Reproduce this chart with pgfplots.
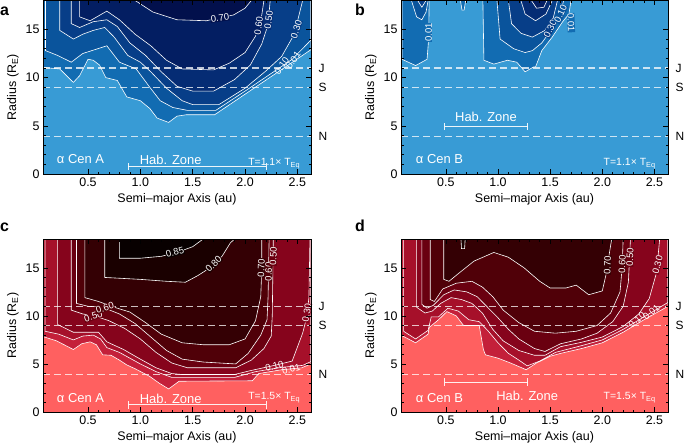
\documentclass[border=0pt]{standalone}
\usepackage{fontspec}
\setmainfont{Liberation Sans}
\usepackage{pgfplots}
\usepackage{pgfplotstable}
\pgfplotsset{compat=1.18}

\definecolor{b0}{RGB}{56,155,213}
\definecolor{b1}{RGB}{18,108,178}
\definecolor{b2}{RGB}{10,84,156}
\definecolor{b3}{RGB}{7,62,136}
\definecolor{b4}{RGB}{5,44,116}
\definecolor{b5}{RGB}{3,30,98}
\definecolor{b6}{RGB}{2,16,76}
\definecolor{r0}{RGB}{255,96,96}
\definecolor{r1}{RGB}{196,32,58}
\definecolor{r2}{RGB}{166,16,42}
\definecolor{r3}{RGB}{134,4,28}
\definecolor{r4}{RGB}{106,0,16}
\definecolor{r5}{RGB}{80,0,8}
\definecolor{r6}{RGB}{52,0,4}
\definecolor{r7}{RGB}{26,0,0}
\definecolor{r8}{RGB}{8,0,0}

% ---------------- panel a (alpha Cen A, T=1.1 T_Eq) ----------------
\pgfplotstableread{
x y
0.07 11.05
0.23 10.9
0.36 9.5
0.42 10.2
0.50 11.9
0.55 11.8
0.61 11.3
0.67 10.0
0.78 9.7
0.87 8.0
1.00 7.6
1.09 6.8
1.16 5.8
1.27 5.35
1.35 6.0
1.44 6.15
1.71 6.15
2.63 12.9
2.63 18
0.07 18
}\aA
\pgfplotstableread{
x y
0.094 18
0.094 12.8
0.21 12.3
0.34 11.6
0.45 12.5
0.68 13.3
0.80 11.6
0.96 10.9
1.09 9.0
1.19 7.6
1.31 6.9
1.45 6.6
1.72 6.6
2.00 8.6
2.30 10.8
2.45 11.9
2.63 13.9
2.63 18
}\aB
\pgfplotstableread{
x y
0.23 18
0.23 14.9
0.36 14.0
0.45 14.5
0.55 14.9
0.66 15.2
0.75 14.2
0.88 12.3
1.00 11.6
1.10 10.6
1.25 8.9
1.40 7.6
1.50 7.2
1.75 7.2
2.00 8.9
2.20 10.7
2.35 12.2
2.47 14.5
2.55 18
}\aC
\pgfplotstableread{
x y
0.34 18
0.34 15.6
0.42 15.2
0.55 15.8
0.68 16.0
0.78 15.3
0.90 13.6
1.05 12.3
1.20 10.6
1.35 9.1
1.50 8.6
1.70 8.6
1.90 9.8
2.05 11.3
2.16 13.5
2.22 15.5
2.24 18
}\aD
\pgfplotstableread{
x y
0.42 18
0.42 16.3
0.52 15.9
0.68 16.9
0.80 16.0
0.95 14.5
1.10 13.3
1.25 11.8
1.40 10.9
1.70 10.8
1.85 11.5
2.00 12.6
2.10 14.3
2.16 16.5
2.18 18
}\aE
\pgfplotstableread{
x y
0.95 18
1.12 16.8
1.35 16.0
1.63 15.9
1.89 16.5
2.00 17.2
2.06 18
}\aF

% ---------------- panel b (alpha Cen B, T=1.1 T_Eq) ----------------
\pgfplotstableread{
x y
0.08 18
0.08 11.9
0.21 11.25
0.32 11.9
0.335 14.0
0.34 18
}\bA
\pgfplotstableread{
x y
0.17 18
0.22 16.3
0.27 16.0
0.31 16.8
0.33 18
}\bB
\pgfplotstableread{
x y
0.23 18
0.27 17.3
0.31 18
}\bC
\pgfplotstableread{
x y
0.64 18
0.655 17.0
0.675 17.0
0.69 18
}\bD
\pgfplotstableread{
x y
0.855 18
0.865 11.8
0.96 11.4
1.09 11.8
1.18 11.6
1.26 10.6
1.34 11.1
1.36 11.1
1.42 12.8
1.52 14.2
1.62 15.8
1.68 16.6
1.70 18
}\bE
\pgfplotstableread{
x y
0.99 18
1.02 14.0
1.15 13.0
1.26 12.6
1.33 12.8
1.42 13.6
1.50 14.8
1.58 16.0
1.63 18
}\bF
\pgfplotstableread{
x y
1.10 18
1.13 15.6
1.22 14.6
1.33 14.2
1.45 14.9
1.53 16.2
1.57 18
}\bG
\pgfplotstableread{
x y
1.22 18
1.26 16.6
1.36 15.9
1.46 16.6
1.52 18
}\bH
\pgfplotstableread{
x y
1.32 18
1.37 17.2
1.44 17.3
1.47 18
}\bI

% ---------------- panel c (alpha Cen A, T=1.5 T_Eq) ----------------
\pgfplotstableread{
x y
0.07 7.85
0.20 7.4
0.36 6.5
0.44 7.1
0.52 7.3
0.58 7.0
0.64 5.95
0.72 5.9
0.80 5.4
0.87 4.9
0.95 4.5
1.09 3.7
1.18 3.0
1.27 2.4
1.37 3.2
2.07 3.25
2.13 4.0
2.35 4.4
2.54 4.6
2.63 5.0
2.63 18
0.07 18
}\cA
\pgfplotstableread{
x y
0.09 18
0.09 8.4
0.22 8.1
0.36 7.5
0.45 7.9
0.55 8.0
0.62 7.6
0.68 6.7
0.80 6.2
0.90 5.6
1.00 5.0
1.15 4.2
1.30 3.6
1.90 3.6
2.10 4.2
2.35 4.65
2.55 4.85
2.63 5.25
2.63 18
}\cB
\pgfplotstableread{
x y
0.21 18
0.21 9.1
0.36 8.3
0.60 8.3
0.68 7.3
0.84 6.5
1.00 5.5
1.15 4.6
1.30 4.0
1.40 3.9
1.90 3.9
2.05 4.3
2.30 4.9
2.45 5.3
2.55 8.2
2.59 9.9
2.61 11.9
2.62 18
}\cC
\pgfplotstableread{
x y
0.34 18
0.34 10.6
0.45 10.2
0.56 10.0
0.70 9.5
0.85 8.7
1.00 7.6
1.15 6.2
1.30 5.1
1.45 4.6
1.91 4.6
2.06 5.4
2.18 6.6
2.25 7.9
2.26 10
2.27 18
}\cD
\pgfplotstableread{
x y
0.39 18
0.39 11.3
0.50 11.0
0.64 10.9
0.80 10.2
0.95 9.2
1.10 7.8
1.25 6.4
1.40 5.5
1.60 5.2
1.91 5.0
2.03 6.1
2.15 8.0
2.21 9.6
2.22 12
2.23 18
}\cE
\pgfplotstableread{
x y
0.47 18
0.47 11.9
0.60 11.5
0.75 10.9
0.90 10.4
1.05 9.3
1.20 8.1
1.40 7.2
1.60 7.0
1.85 7.0
2.00 7.6
2.10 9.5
2.15 12
2.16 15
2.16 18
}\cF
\pgfplotstableread{
x y
0.66 18
0.66 14.0
1.00 13.8
1.25 13.6
1.43 13.5
1.55 14.2
1.65 14.9
1.78 16.2
1.86 17.6
1.90 18
}\cG
\pgfplotstableread{
x y
0.80 18
0.80 16.0
1.00 16.0
1.20 16.2
1.35 16.6
1.50 17.2
1.60 18
}\cH

% ---------------- panel d (alpha Cen B, T=1.5 T_Eq) ----------------
\pgfplotstableread{
x y
0.07 8.0
0.21 7.2
0.33 8.1
0.34 8.8
0.43 9.6
0.51 10.45
0.60 10.0
0.67 9.0
0.82 9.0
0.86 6.5
0.88 5.95
1.00 5.6
1.12 5.1
1.27 4.4
1.37 5.1
1.50 5.8
1.60 6.1
1.80 6.6
2.00 7.2
2.20 8.3
2.40 9.6
2.63 11.0
2.63 18
0.07 18
}\dA
\pgfplotstableread{
x y
0.095 18
0.095 8.4
0.21 7.6
0.33 8.5
0.36 9.9
0.43 9.9
0.52 10.8
0.62 10.5
0.72 9.6
0.82 9.4
0.90 8.5
1.00 7.2
1.10 6.1
1.20 5.4
1.28 4.8
1.40 5.3
1.55 6.2
1.80 6.9
2.00 7.5
2.20 8.6
2.40 9.9
2.63 11.4
2.63 18
}\dB
\pgfplotstableread{
x y
0.22 18
0.22 10.9
0.30 10.3
0.37 10.5
0.45 11.3
0.55 11.9
0.65 11.7
0.75 11.3
0.85 10.3
0.95 8.6
1.05 7.4
1.20 6.4
1.35 5.9
1.45 5.9
1.60 6.8
1.80 7.25
2.00 7.8
2.20 8.9
2.35 10.2
2.45 11.8
2.52 14.5
2.55 18
}\dC
\pgfplotstableread{
x y
0.27 18
0.27 11.2
0.32 10.8
0.38 11.1
0.48 12.2
0.58 12.7
0.70 12.5
0.80 12.0
0.90 10.9
1.00 9.8
1.10 8.6
1.20 7.6
1.35 6.6
1.45 6.3
1.60 7.1
1.80 7.6
1.95 8.2
2.10 9.4
2.20 11.0
2.25 13.5
2.27 18
}\dD
\pgfplotstableread{
x y
0.35 18
0.35 11.7
0.39 11.5
0.47 12.8
0.60 13.4
0.75 13.6
0.85 13.0
0.95 12.0
1.05 10.6
1.20 9.3
1.35 8.4
1.55 8.2
1.75 8.4
1.95 9.0
2.08 10.3
2.17 12.5
2.19 15
2.20 18
}\dE
\pgfplotstableread{
x y
0.48 18
0.48 13.8
0.53 13.6
0.62 14.4
0.77 15.7
0.96 16.6
1.10 16.1
1.25 15.0
1.40 13.6
1.50 12.9
1.65 12.9
1.75 13.2
1.87 12.2
2.00 12.6
2.04 14.5
2.06 16.0
2.09 18
}\dF
\pgfplotstableread{
x y
0.645 18
0.65 17.0
0.68 17.0
0.685 18
}\dG

\pgfplotsset{
  /pgf/number format/assume math mode=true,
  panel/.style={
    scale only axis,
    xmin=0.07, xmax=2.63, ymin=0, ymax=18,
    xtick={0.5,1.0,1.5,2.0,2.5}, ytick={0,5,10,15},
    minor x tick num=4, minor y tick num=4,
    tick align=inside, major tick length=5bp, minor tick length=2.5bp,
    tick style={black, line width=0.5pt},
    axis line style={black, line width=0.8pt},
    axis on top, clip mode=individual,
    x tick label style={/pgf/number format/.cd, fixed, fixed zerofill, precision=1, /tikz/.cd},
    tick label style={font=\fontsize{12.5}{14}\selectfont},
    label style={font=\fontsize{12.5}{14}\selectfont},
    xlabel={Semi--major Axis (au)},
    ylabel={Radius (R\textsubscript{E})},
  },
  cl/.style={white, line width=0.6pt},
  dsh/.style={white, opacity=0.75, line width=1.1pt, dash pattern=on 7bp off 4bp},
  hz/.style={white, opacity=0.9, line width=0.9pt, |-|},
}
\tikzset{
  clab/.style={text=white, font=\fontsize{9.5}{10}\selectfont, inner sep=0.4pt},
  rl/.style={font=\fontsize{12}{13}\selectfont, anchor=west},
  big/.style={text=white, font=\fontsize{13}{14}\selectfont},
  tl/.style={text=white, font=\fontsize{10.5}{12}\selectfont, anchor=east},
}

\begin{document}
\begin{tikzpicture}
\useasboundingbox (0,0) rectangle (685bp,-446bp);

% ======================= a =======================
\begin{axis}[panel, at={(43bp,-0.5bp)}, anchor=north west, width=268bp, height=173.5bp,
  axis background/.style={fill=b0}]
\addplot[fill=b1, draw=none] table {\aA};
\addplot[fill=b2, draw=none] table {\aB};
\addplot[fill=b3, draw=none] table {\aC};
\addplot[fill=b4, draw=none] table {\aD};
\addplot[fill=b5, draw=none] table {\aE};
\addplot[fill=b6, draw=none] table {\aF};
\addplot[cl] table {\aA};
\addplot[cl] table {\aB};
\addplot[cl] table {\aC};
\addplot[cl] table {\aD};
\addplot[cl] table {\aE};
\addplot[cl] table {\aF};
\addplot[dsh] coordinates {(0.07,11) (2.63,11)};
\addplot[dsh] coordinates {(0.07,9) (2.63,9)};
\addplot[dsh] coordinates {(0.07,3.88) (2.63,3.88)};
\addplot[hz] coordinates {(0.88,0.76) (2.21,0.76)};
\node[clab, fill=b6, rotate=8] at (axis cs:1.76,16.2) {0.70};
\node[clab, fill=b5, rotate=82] at (axis cs:2.13,15.4) {0.60};
\node[clab, fill=b4, rotate=82] at (axis cs:2.225,16.0) {0.50};
\node[clab, fill=b3, rotate=72] at (axis cs:2.49,15.0) {0.30};
\node[clab, rotate=55] at (axis cs:2.35,11.2) {0.10};
\node[clab, rotate=55] at (axis cs:2.46,11.8) {0.01};
\node[big, anchor=west] at (axis cs:0.17,1.55) {α Cen A};
\node[big] at (axis cs:1.29,1.5) {Hab. Zone};
\node[tl] at (axis cs:2.56,1.1) {T=1.1× T\textsubscript{Eq}};
\node[rl] at (axis cs:2.67,11) {J};
\node[rl] at (axis cs:2.67,9) {S};
\node[rl] at (axis cs:2.67,3.88) {N};
\end{axis}

% ======================= b =======================
\begin{axis}[panel, at={(401bp,-0.5bp)}, anchor=north west, width=267bp, height=173.5bp,
  axis background/.style={fill=b0}]
\addplot[fill=b1, draw=none] table {\bA};
\addplot[fill=b1, draw=none] table {\bD};
\addplot[fill=b1, draw=none] table {\bE};
\addplot[fill=b2, draw=none] table {\bB};
\addplot[fill=b2, draw=none] table {\bF};
\addplot[fill=b3, draw=none] table {\bC};
\addplot[fill=b3, draw=none] table {\bG};
\addplot[fill=b4, draw=none] table {\bH};
\addplot[fill=b5, draw=none] table {\bI};
\addplot[cl] table {\bA};
\addplot[cl] table {\bB};
\addplot[cl] table {\bC};
\addplot[cl] table {\bD};
\addplot[cl] table {\bE};
\addplot[cl] table {\bF};
\addplot[cl] table {\bG};
\addplot[cl] table {\bH};
\addplot[cl] table {\bI};
\addplot[dsh] coordinates {(0.07,11) (2.63,11)};
\addplot[dsh] coordinates {(0.07,9) (2.63,9)};
\addplot[dsh] coordinates {(0.07,3.88) (2.63,3.88)};
\addplot[hz] coordinates {(0.485,4.93) (1.29,4.93)};
\node[clab, fill=b1, rotate=90] at (axis cs:0.335,14.7) {0.01};
\node[clab, fill=b3, rotate=65] at (axis cs:1.50,15.1) {0.30};
\node[clab, fill=b2, rotate=65] at (axis cs:1.60,16.6) {0.10};
\node[clab, fill=b1, rotate=-88] at (axis cs:1.70,15.7) {0.01};
\node[big, anchor=west] at (axis cs:0.18,1.55) {α Cen B};
\node[big] at (axis cs:0.885,5.9) {Hab. Zone};
\node[tl] at (axis cs:2.545,1.1) {T=1.1× T\textsubscript{Eq}};
\node[rl] at (axis cs:2.67,11) {J};
\node[rl] at (axis cs:2.67,9) {S};
\node[rl] at (axis cs:2.67,3.88) {N};
\end{axis}

% ======================= c =======================
\begin{axis}[panel, at={(43bp,-239bp)}, anchor=north west, width=268bp, height=173bp,
  axis background/.style={fill=r0}]
\addplot[fill=r1, draw=none] table {\cA};
\addplot[fill=r2, draw=none] table {\cB};
\addplot[fill=r3, draw=none] table {\cC};
\addplot[fill=r4, draw=none] table {\cD};
\addplot[fill=r5, draw=none] table {\cE};
\addplot[fill=r6, draw=none] table {\cF};
\addplot[fill=r7, draw=none] table {\cG};
\addplot[fill=r8, draw=none] table {\cH};
\addplot[cl] table {\cA};
\addplot[cl] table {\cB};
\addplot[cl] table {\cC};
\addplot[cl] table {\cD};
\addplot[cl] table {\cE};
\addplot[cl] table {\cF};
\addplot[cl] table {\cG};
\addplot[cl] table {\cH};
\addplot[dsh] coordinates {(0.07,11) (2.63,11)};
\addplot[dsh] coordinates {(0.07,9) (2.63,9)};
\addplot[dsh] coordinates {(0.07,3.88) (2.63,3.88)};
\addplot[hz] coordinates {(0.88,0.74) (2.21,0.74)};
\node[clab, fill=r8, rotate=15] at (axis cs:1.33,16.6) {0.85};
\node[clab, fill=r7, rotate=45] at (axis cs:1.70,15.4) {0.80};
\node[clab, fill=r6, rotate=88] at (axis cs:2.155,15.0) {0.70};
\node[clab, fill=r5, rotate=88] at (axis cs:2.225,14.6) {0.60};
\node[clab, fill=r4, rotate=88] at (axis cs:2.27,16.2) {0.50};
\node[clab, fill=r3, rotate=80] at (axis cs:2.59,10.3) {0.30};
\node[clab, rotate=15] at (axis cs:2.28,4.75) {0.10};
\node[clab, rotate=15] at (axis cs:2.44,4.45) {0.01};
\node[clab, fill=r4, rotate=18] at (axis cs:0.55,9.95) {0.50};
\node[clab, fill=r5, rotate=18] at (axis cs:0.66,10.85) {0.60};
\node[big, anchor=west] at (axis cs:0.17,1.43) {α Cen A};
\node[big] at (axis cs:1.29,1.36) {Hab. Zone};
\node[tl] at (axis cs:2.56,1.5) {T=1.5× T\textsubscript{Eq}};
\node[rl] at (axis cs:2.67,11) {J};
\node[rl] at (axis cs:2.67,9) {S};
\node[rl] at (axis cs:2.67,3.88) {N};
\end{axis}

% ======================= d =======================
\begin{axis}[panel, at={(401bp,-239bp)}, anchor=north west, width=267bp, height=173bp,
  axis background/.style={fill=r0}]
\addplot[fill=r1, draw=none] table {\dA};
\addplot[fill=r2, draw=none] table {\dB};
\addplot[fill=r3, draw=none] table {\dC};
\addplot[fill=r4, draw=none] table {\dD};
\addplot[fill=r5, draw=none] table {\dE};
\addplot[fill=r6, draw=none] table {\dF};
\addplot[fill=r7, draw=none] table {\dG};
\addplot[cl] table {\dA};
\addplot[cl] table {\dB};
\addplot[cl] table {\dC};
\addplot[cl] table {\dD};
\addplot[cl] table {\dE};
\addplot[cl] table {\dF};
\addplot[cl] table {\dG};
\addplot[dsh] coordinates {(0.07,11) (2.63,11)};
\addplot[dsh] coordinates {(0.07,9) (2.63,9)};
\addplot[dsh] coordinates {(0.07,3.88) (2.63,3.88)};
\addplot[hz] coordinates {(0.485,3.1) (1.29,3.1)};
\node[clab, fill=r6, rotate=88] at (axis cs:2.05,15.3) {0.70};
\node[clab, fill=r5, rotate=88] at (axis cs:2.19,15.4) {0.60};
\node[clab, fill=r4, rotate=88] at (axis cs:2.265,16.1) {0.50};
\node[clab, fill=r3, rotate=75] at (axis cs:2.53,15.3) {0.30};
\node[clab, rotate=40] at (axis cs:2.33,9.6) {0.10};
\node[clab, rotate=40] at (axis cs:2.47,10.4) {0.01};
\node[big, anchor=west] at (axis cs:0.18,1.43) {α Cen B};
\node[big] at (axis cs:1.28,1.7) {Hab. Zone};
\node[tl] at (axis cs:2.545,1.5) {T=1.5× T\textsubscript{Eq}};
\node[rl] at (axis cs:2.67,11) {J};
\node[rl] at (axis cs:2.67,9) {S};
\node[rl] at (axis cs:2.67,3.88) {N};
\end{axis}

\node[font=\bfseries\fontsize{16}{16}\selectfont, anchor=base west, inner sep=0pt] at (0bp,-15bp) {a};
\node[font=\bfseries\fontsize{16}{16}\selectfont, anchor=base west, inner sep=0pt] at (355bp,-15bp) {b};
\node[font=\bfseries\fontsize{16}{16}\selectfont, anchor=base west, inner sep=0pt] at (0bp,-231bp) {c};
\node[font=\bfseries\fontsize{16}{16}\selectfont, anchor=base west, inner sep=0pt] at (355bp,-231bp) {d};
\end{tikzpicture}
\end{document}
